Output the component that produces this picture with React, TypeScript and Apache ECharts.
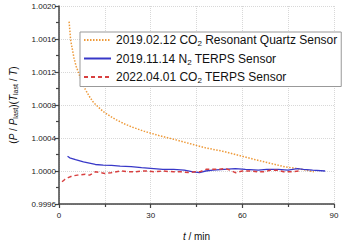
import React, { useEffect, useRef } from "react";
import * as echarts from "echarts";

const quartzT = [3.3, 3.8, 4.4, 4.9, 5.6, 6.5, 7.5, 8.6, 10, 11.3, 13, 14.5, 16.5, 18.8, 21.5, 24.1, 28, 32.7, 38, 43, 48, 53.5, 58.8, 64, 69.5, 74, 78, 81, 83.4];
const quartzV = [1.00181, 1.00159, 1.00147, 1.00137, 1.00127, 1.00118, 1.00108, 1.00099, 1.0009, 1.00083, 1.00077, 1.00072, 1.00067, 1.00062, 1.00057, 1.00053, 1.00048, 1.00043, 1.00038, 1.00033, 1.00028, 1.00024, 1.00019, 1.00014, 1.00009, 1.00005, 1.00003, 1.00001, 0.99999];

const n2T = [2.8, 3.5, 5.4, 8, 11.9, 14.5, 17.2, 20, 23.6, 27, 31, 34, 37.5, 41, 43.9, 46, 48, 50.3, 54, 57.7, 61, 65.2, 68, 71.7, 75, 78, 80, 83, 87.1];
const n2V = [1.00018, 1.00016, 1.000137, 1.00011, 1.000079, 1.00007, 1.000067, 1.00006, 1.000052, 1.00004, 1.000029, 1.00002, 1.00002, 1.00001, 0.99999, 0.99998, 1.0, 1.00001, 1.00002, 1.00003, 1.00002, 1.00001, 1.00002, 1.00002, 1.00001, 1.00003, 1.00002, 1.00001, 1.0];

const co2T = [1, 2, 3, 4.4, 6, 8.6, 10, 11.9, 13.5, 15, 17, 20.4, 22.5, 24.7, 27, 28.9, 31, 34, 37.5, 40, 42.8, 44.5, 46, 48.1, 50, 52, 54.5, 56, 57.7, 60, 63, 65, 67.4, 69, 71.7, 73.5, 75.9, 78.6];
const co2V = [0.99987, 0.9999, 0.99992, 0.99994, 0.99995, 0.99996, 0.99995, 0.99999, 0.99998, 0.99997, 0.99998, 1.0, 0.99999, 0.99999, 1.0, 1.0, 0.99999, 1.0, 0.99999, 0.99999, 0.99998, 0.99999, 0.99999, 1.00002, 1.00002, 1.00002, 1.00003, 1.00001, 0.99998, 1.0, 1.0, 0.99999, 0.99999, 1.00001, 1.00001, 0.99999, 0.99999, 1.0];

const seriesNames = [
  "2019.02.12 CO2 Resonant Quartz Sensor",
  "2019.11.14 N2 TERPS Sensor",
  "2022.04.01 CO2 TERPS Sensor",
];
const legendRich: Record<string, string> = {
  "2019.02.12 CO2 Resonant Quartz Sensor": "2019.02.12 CO{sub|2} Resonant Quartz Sensor",
  "2019.11.14 N2 TERPS Sensor": "2019.11.14 N{sub|2} TERPS Sensor",
  "2022.04.01 CO2 TERPS Sensor": "2022.04.01 CO{sub|2} TERPS Sensor",
};

const xTicks = { min: 0, max: 90, interval: 30 };
const yTicks = { min: 0.9996, max: 1.002, interval: 0.0004 };

const zip = (t: number[], v: number[]) => t.map((x, i) => [x, v[i]]);

export default function App() {
  const ref = useRef<HTMLDivElement>(null);
  useEffect(() => {
    if (!ref.current) return;
    const chart = echarts.init(ref.current, null, { renderer: "svg" });
    const font = "Liberation Sans, Arial, sans-serif";
    const axisColor = "#444";
    const gridLine = { show: true, lineStyle: { color: "#d8d8d8", type: "dotted" as const, width: 1 } };
    chart.setOption({
      animation: false,
      grid: { left: 53, right: 8, top: 6, bottom: 33 },
      legend: {
        orient: "vertical",
        left: 80,
        top: 32,
        itemWidth: 27,
        itemHeight: 12,
        itemGap: 5,
        padding: [2, 4, 2, 3],
        borderColor: "#999",
        borderWidth: 1,
        backgroundColor: "#fff",
        data: seriesNames,
        itemStyle: { opacity: 0 },
        formatter: (n: string) => legendRich[n] || n,
        textStyle: {
          fontFamily: font,
          fontSize: 12,
          color: "#111",
          rich: {
            sub: { fontSize: 8, fontFamily: font, color: "#111", padding: [7, 0, 0, 0] },
          },
        },
      },
      xAxis: {
        type: "value",
        min: xTicks.min,
        max: xTicks.max,
        interval: xTicks.interval,
        name: "{i|t} / min",
        nameLocation: "middle",
        nameGap: 27,
        nameTextStyle: {
          fontFamily: font,
          fontSize: 10,
          color: "#111",
          rich: { i: { fontStyle: "italic", fontFamily: font, fontSize: 10, color: "#111" } },
        },
        axisLine: { show: true, lineStyle: { color: axisColor, width: 1.5 } },
        axisTick: { show: true, length: 4, lineStyle: { color: axisColor, width: 1.2 } },
        minorTick: { show: true, splitNumber: 2, length: 3, lineStyle: { color: axisColor, width: 1.2 } },
        axisLabel: { fontFamily: font, fontSize: 8, color: "#222", margin: 7 },
        splitLine: gridLine,
        minorSplitLine: gridLine,
      },
      yAxis: {
        type: "value",
        min: yTicks.min,
        max: yTicks.max,
        interval: yTicks.interval,
        name: "({i|P} / {i|P}{sub|last})({i|T}{sub|last} / {i|T})",
        nameLocation: "middle",
        nameRotate: 90,
        nameGap: 40,
        nameTextStyle: {
          fontFamily: font,
          fontSize: 10,
          color: "#111",
          rich: {
            i: { fontStyle: "italic", fontFamily: font, fontSize: 10, color: "#111" },
            sub: { fontSize: 7, fontFamily: font, color: "#111", padding: [5, 0, 0, 0] },
          },
        },
        axisLine: { show: true, lineStyle: { color: axisColor, width: 1.5 } },
        axisTick: { show: true, length: 4, lineStyle: { color: axisColor, width: 1.2 } },
        minorTick: { show: true, splitNumber: 2, length: 3, lineStyle: { color: axisColor, width: 1.2 } },
        axisLabel: {
          fontFamily: font,
          fontSize: 8,
          color: "#222",
          margin: 3,
          formatter: (v: number) => v.toFixed(4),
        },
        splitLine: gridLine,
      },
      series: [
        {
          name: seriesNames[0],
          type: "line",
          data: zip(quartzT, quartzV),
          showSymbol: false,
          symbol: "none",
          lineStyle: { color: "#EE9A3A", width: 1.5, type: [1.5, 1.5] },
          itemStyle: { color: "#EE9A3A" },
          z: 3,
        },
        {
          name: seriesNames[1],
          type: "line",
          data: zip(n2T, n2V),
          showSymbol: false,
          symbol: "none",
          lineStyle: { color: "#3838C8", width: 1.3, type: "solid" },
          itemStyle: { color: "#3838C8" },
          z: 4,
        },
        {
          name: seriesNames[2],
          type: "line",
          data: zip(co2T, co2V),
          showSymbol: false,
          symbol: "none",
          lineStyle: { color: "#D84040", width: 1.5, type: [4, 3] },
          itemStyle: { color: "#D84040" },
          z: 5,
        },
      ],
    });
    return () => chart.dispose();
  }, []);
  return <div ref={ref} style={{ width: 342, height: 246, position: "absolute", left: 0, top: 0 }} />;
}
